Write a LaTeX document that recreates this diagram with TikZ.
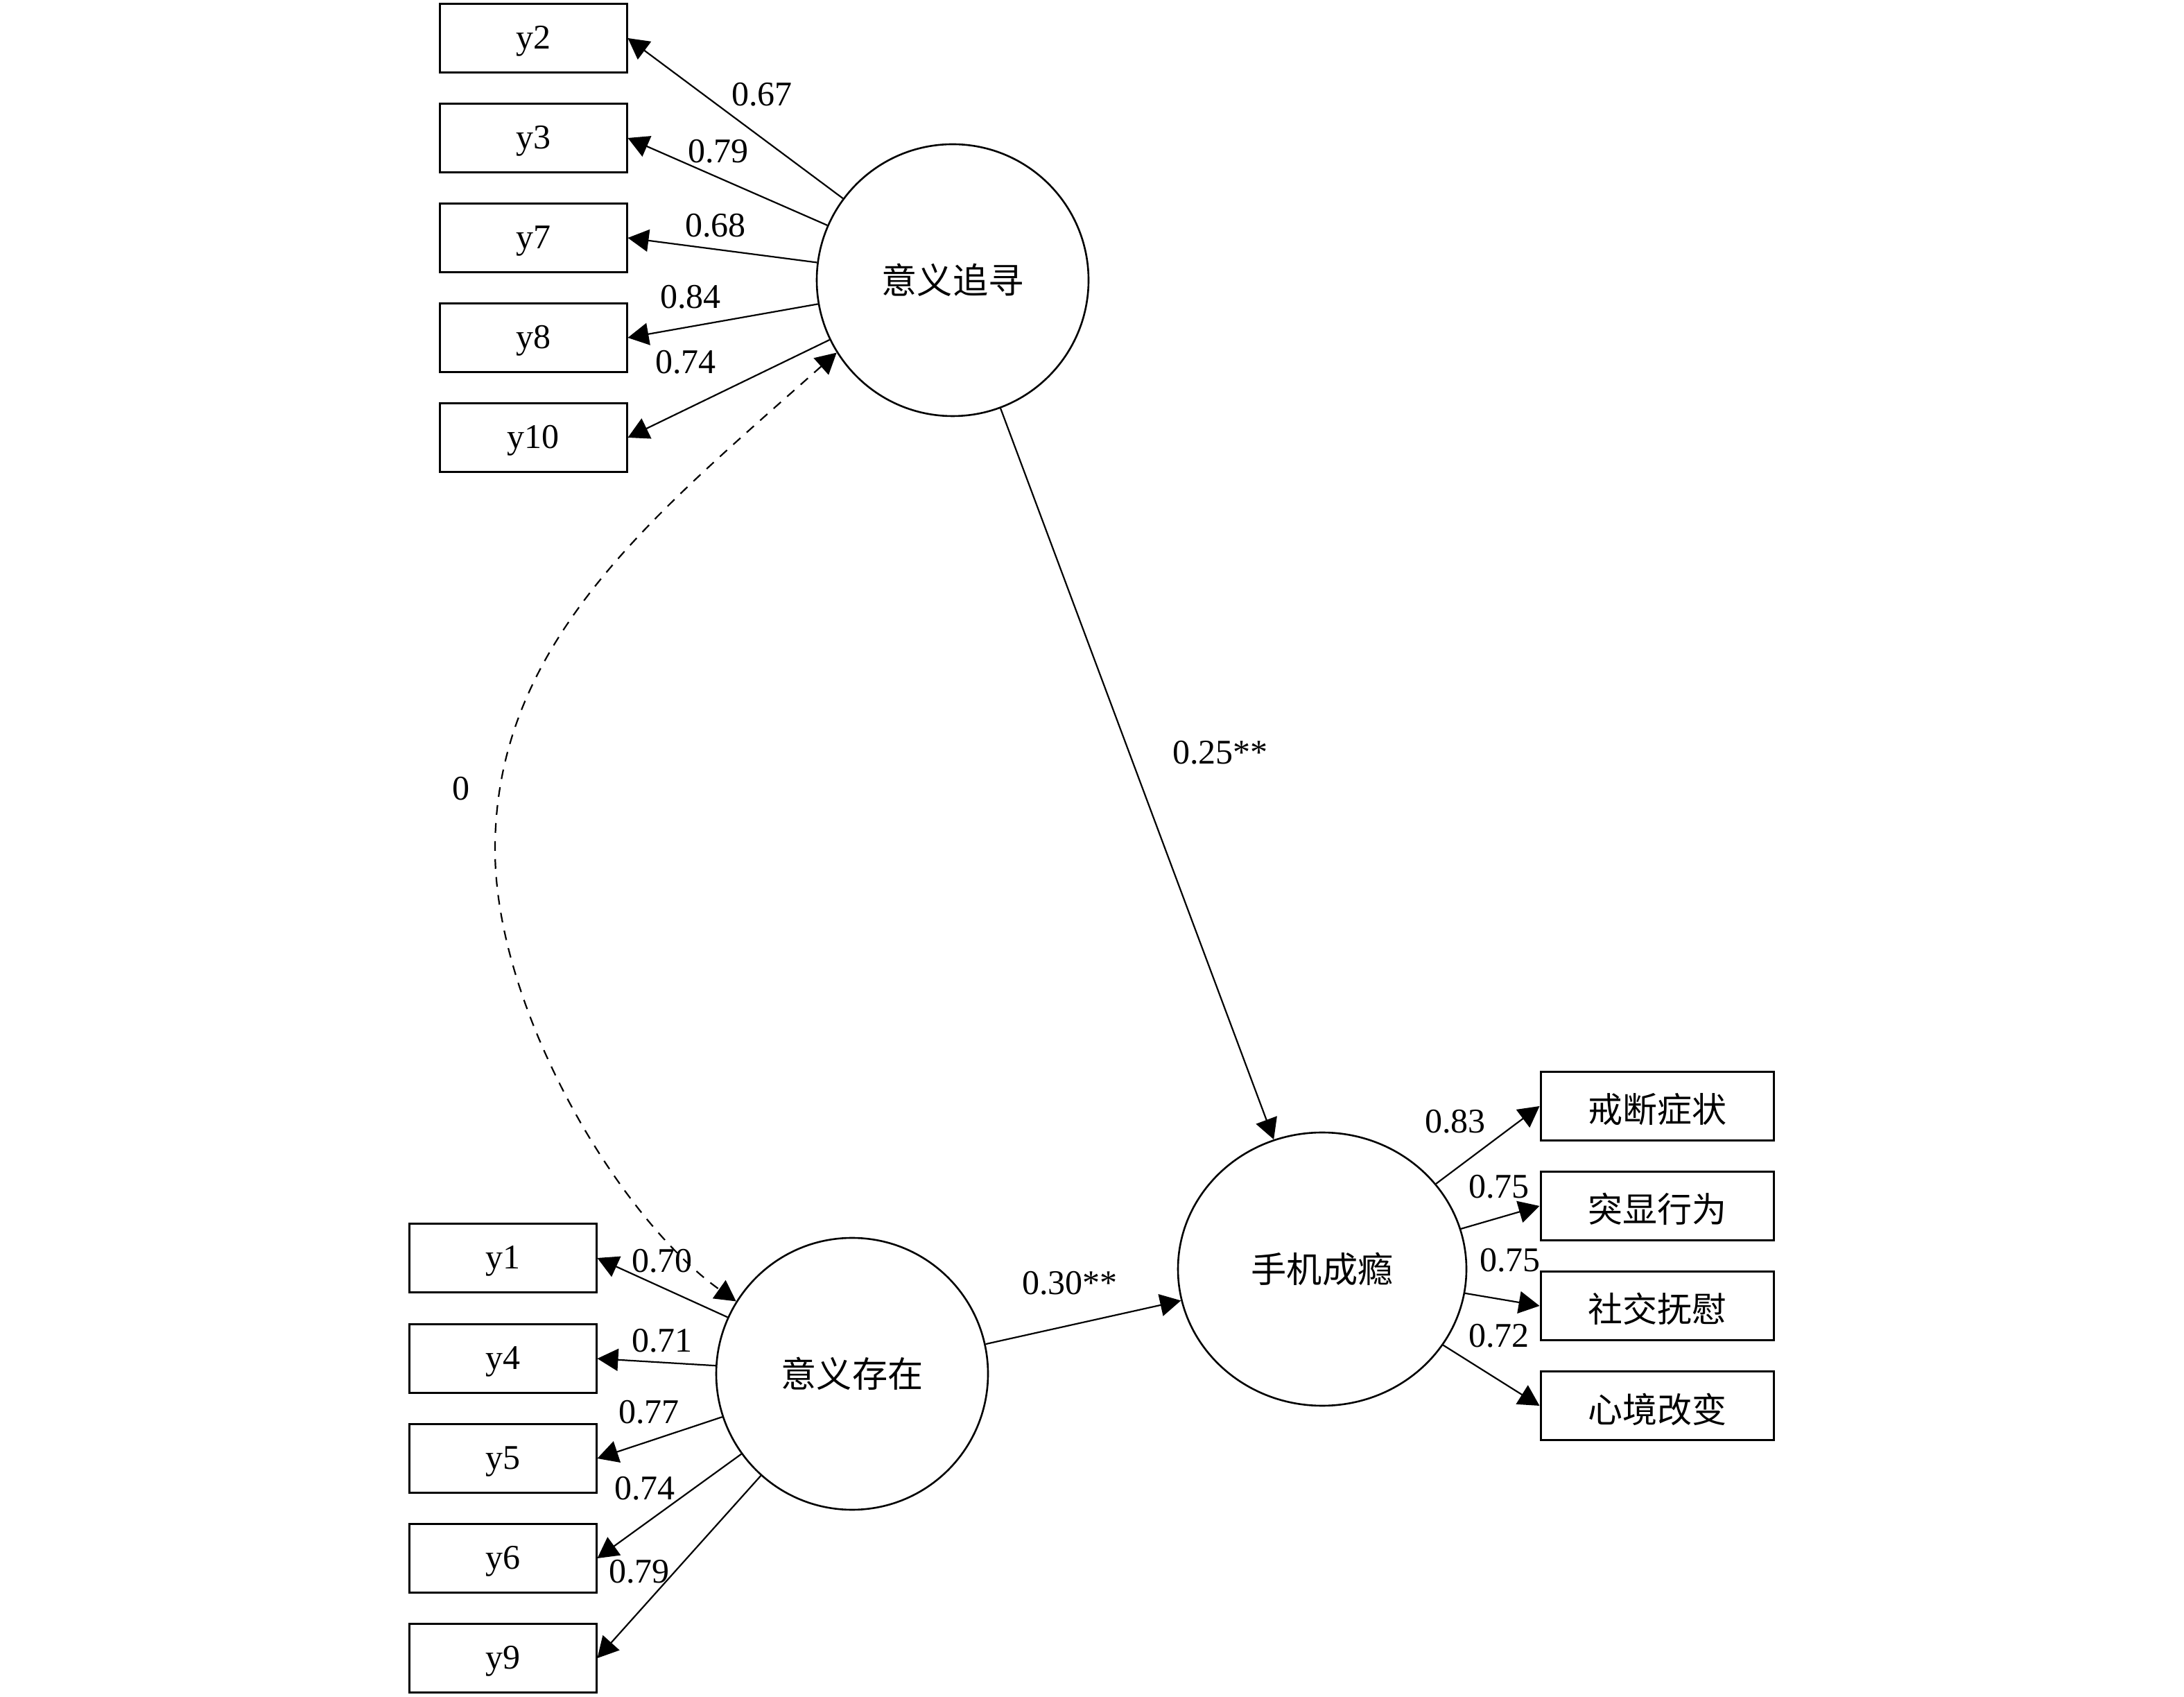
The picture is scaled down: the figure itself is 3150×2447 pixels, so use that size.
\documentclass[tikz,border=0pt]{standalone}
\usepackage{fontspec}
\setmainfont{Liberation Serif}
\newfontfamily\cjk{Noto Sans CJK SC}
\usetikzlibrary{arrows.meta,shapes.geometric}
\begin{document}
\begin{tikzpicture}[x=0.25pt,y=-0.25pt,
  box/.style={draw,line width=0.75pt,minimum width=67.5pt,minimum height=24.75pt,inner sep=0pt,text height=10pt,text depth=2.2pt,font=\fontsize{12.5pt}{15pt}\selectfont},
  cbox/.style={box,minimum width=84pt,text height=12pt,text depth=0pt,font=\fontsize{12.5pt}{15pt}\selectfont\cjk},
  latent/.style={draw,circle,line width=0.65pt,minimum size=98pt,inner sep=0pt,font=\fontsize{12.8pt}{15pt}\selectfont\cjk},
  lab/.style={inner sep=0pt,font=\fontsize{12.5pt}{15pt}\selectfont},
  arr/.style={line width=0.55pt,-{Triangle[length=7.5pt,width=8pt]}},
  cov/.style={line width=0.55pt,dash pattern=on 3.5pt off 3pt,{Triangle[length=7.5pt,width=8pt]}-{Triangle[length=7.5pt,width=8pt]}}]
\useasboundingbox (0,0) rectangle (3150,2447);
% latent variables
\node[latent] (S) at (1374,404) {意义追寻};
\node[latent] (E) at (1229,1981) {意义存在};
\node[latent,ellipse,minimum width=104pt,minimum height=98.5pt] (M) at (1907,1830) {手机成瘾};
% top indicators
\node[box] (y2) at (769,55) {y2};
\node[box] (y3) at (769,199) {y3};
\node[box] (y7) at (769,343) {y7};
\node[box] (y8) at (769,487) {y8};
\node[box] (y10) at (769,631) {y10};
% bottom indicators
\node[box] (y1) at (725,1814) {y1};
\node[box] (y4) at (725,1959) {y4};
\node[box] (y5) at (725,2103) {y5};
\node[box] (y6) at (725,2247) {y6};
\node[box] (y9) at (725,2391) {y9};
% right indicators
\node[cbox] (r1) at (2390,1595) {戒断症状};
\node[cbox] (r2) at (2390,1739) {突显行为};
\node[cbox] (r3) at (2390,1883) {社交抚慰};
\node[cbox] (r4) at (2390,2027) {心境改变};
% loadings
\draw[arr] (S) -- (y2.east);
\draw[arr] (S) -- (y3.east);
\draw[arr] (S) -- (y7.east);
\draw[arr] (S) -- (y8.east);
\draw[arr] (S) -- (y10.east);
\draw[arr] (E) -- (y1.east);
\draw[arr] (E) -- (y4.east);
\draw[arr] (E) -- (y5.east);
\draw[arr] (E) -- (y6.east);
\draw[arr] (E) -- (y9.east);
\draw[arr] (M) -- (r1.west);
\draw[arr] (M) -- (r2.west);
\draw[arr] (M) -- (r3.west);
\draw[arr] (M) -- (r4.west);
% structural paths
\draw[arr] (S) -- (M);
\draw[arr] (E) -- (M);
% covariance
\draw[cov] (S.212) .. controls (944,742) and (714,925) .. (714,1225)
  .. controls (714,1455) and (892,1756) .. (E.148);
% labels
\node[lab] (l1) at (1099,136) {0.67};
\node[lab] (l2) at (1036,218) {0.79};
\node[lab] (l3) at (1032,325) {0.68};
\node[lab] (l4) at (996,428) {0.84};
\node[lab] (l5) at (989,522) {0.74};
\node[lab] (l6) at (955,1818) {0.70};
\node[lab] (l7) at (955,1933) {0.71};
\node[lab] (l8) at (936,2036) {0.77};
\node[lab] (l9) at (930,2146) {0.74};
\node[lab] (l10) at (922,2266) {0.79};
\node[lab] (l11) at (2099,1617) {0.83};
\node[lab] (l12) at (2162,1711) {0.75};
\node[lab] (l13) at (2178,1817) {0.75};
\node[lab] (l14) at (2162,1926) {0.72};
\node[lab] (l15) at (1760,1085) {0.25**};
\node[lab] (l16) at (1543,1850) {0.30**};
\node[lab] (l17) at (665,1137) {0};
\end{tikzpicture}
\end{document}
